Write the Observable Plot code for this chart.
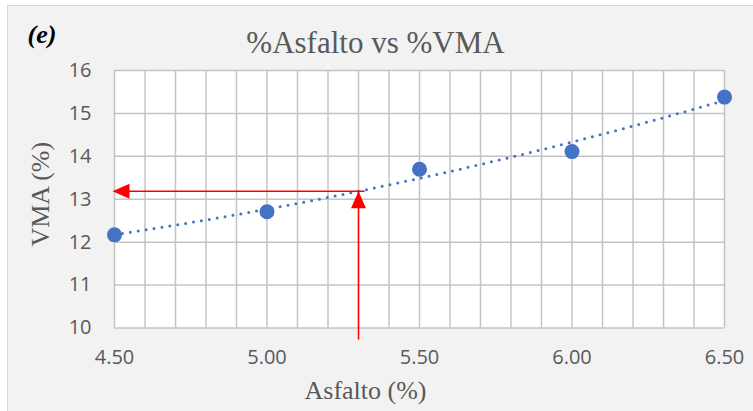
<!DOCTYPE html>
<html>
<head>
<meta charset="utf-8">
<script src="https://cdn.jsdelivr.net/npm/d3@7"></script>
<script src="https://cdn.jsdelivr.net/npm/@observablehq/plot@0.6"></script>
<style>
  html, body { margin: 0; padding: 0; background: #ffffff; }
  #wrap { position: relative; width: 753px; height: 411px; overflow: hidden; }
  #panel { position: absolute; left: 7px; top: 5px; width: 780px; height: 440px;
           background: #f2f2f2; border: 1.5px solid #d9d9d9; box-sizing: border-box; }
  #chart { position: absolute; left: 0; top: 0; }
</style>
</head>
<body>
<div id="wrap"><div id="panel"></div><div id="chart"></div></div>
<script>
// Asphalt content (%) and voids in mineral aggregate (%)
const asfalto = [4.5, 5.0, 5.5, 6.0, 6.5];
const vma = [12.17, 12.71, 13.70, 14.11, 15.38];
const xTicks = [4.5, 5.0, 5.5, 6.0, 6.5];
const yTicks = [10, 11, 12, 13, 14, 15, 16];
const designAsfalto = 5.3;   // chosen asphalt content
const axisFloor = 9.73;      // where the vertical guide starts, just below the axis

const title = "%Asfalto vs %VMA";
const panelTag = "(e)";
const xLabel = "Asfalto (%)";
const yLabel = "VMA (%)";

const blue = "#4472C4";
const red = "#ff0000";
const gray = "#595959";
const serif = "Liberation Serif, Times New Roman, serif";

// second-order least-squares trendline through the measured points
function polyfit2(xs, ys) {
  const n = xs.length;
  let s = [0, 0, 0, 0, 0], t = [0, 0, 0];
  for (let i = 0; i < n; i++) {
    let p = 1;
    for (let k = 0; k < 5; k++) { s[k] += p; if (k < 3) t[k] += p * ys[i]; p *= xs[i]; }
  }
  const A = [[s[0], s[1], s[2], t[0]], [s[1], s[2], s[3], t[1]], [s[2], s[3], s[4], t[2]]];
  for (let c = 0; c < 3; c++) {
    for (let r = c + 1; r < 3; r++) {
      const f = A[r][c] / A[c][c];
      for (let k = c; k < 4; k++) A[r][k] -= f * A[c][k];
    }
  }
  const b = [0, 0, 0];
  for (let r = 2; r >= 0; r--) {
    let v = A[r][3];
    for (let k = r + 1; k < 3; k++) v -= A[r][k] * b[k];
    b[r] = v / A[r][r];
  }
  return x => b[0] + b[1] * x + b[2] * x * x;
}
const fit = polyfit2(asfalto, vma);
const trend = d3.range(0, 201).map(i => {
  const x = asfalto[0] + (asfalto[asfalto.length - 1] - asfalto[0]) * i / 200;
  return {x, y: fit(x)};
});
const designVMA = fit(designAsfalto);

const points = asfalto.map((x, i) => ({x, y: vma[i]}));

// filled arrowhead with its tip at the origin, pointing up
const arrowHead = {
  draw(ctx) {
    ctx.moveTo(0, 0);
    ctx.lineTo(7.5, 17);
    ctx.lineTo(-7.5, 17);
    ctx.closePath();
  }
};

const fine = d3.range(45, 66).map(d => d / 10);

const chart = Plot.plot({
  width: 753,
  height: 411,
  marginLeft: 114,
  marginRight: 29,
  marginTop: 70,
  marginBottom: 83.5,
  style: {background: "transparent", fontFamily: "Open Sans, sans-serif"},
  x: {domain: [4.5, 6.5]},
  y: {domain: [10, 16]},
  marks: [
    Plot.frame({fill: "white", stroke: null}),
    Plot.gridX(fine, {stroke: "#c4c4c4", strokeOpacity: 1, strokeWidth: 1.5}),
    Plot.gridY(yTicks, {stroke: "#c4c4c4", strokeOpacity: 1, strokeWidth: 1.5}),
    Plot.axisX(xTicks, {tickSize: 0, tickPadding: 22, tickFormat: d3.format(".2f"),
      fontSize: 20, fill: gray, label: null}),
    Plot.axisY(yTicks, {tickSize: 0, tickPadding: 23, fontSize: 20, fill: gray, label: null}),
    Plot.line(trend, {x: "x", y: "y", stroke: blue, strokeWidth: 3,
      strokeDasharray: "0,8", strokeLinecap: "round"}),
    Plot.dot(points, {x: "x", y: "y", r: 7.5, fill: blue, stroke: null}),
    // red guides: chosen asphalt content up to the trendline, then across to the VMA axis
    Plot.link([{x1: designAsfalto, y1: axisFloor, x2: designAsfalto, y2: designVMA}],
      {x1: "x1", y1: "y1", x2: "x2", y2: "y2", stroke: red, strokeWidth: 1.5}),
    Plot.link([{x1: designAsfalto + 0.02, y1: designVMA, x2: asfalto[0], y2: designVMA}],
      {x1: "x1", y1: "y1", x2: "x2", y2: "y2", stroke: red, strokeWidth: 1.5}),
    Plot.dot([{x: designAsfalto, y: designVMA}], {x: "x", y: "y", symbol: arrowHead,
      fill: red, stroke: null, r: 6}),
    Plot.dot([{x: asfalto[0], y: designVMA}], {x: "x", y: "y", symbol: arrowHead,
      rotate: -90, fill: red, stroke: null, r: 6, dx: -2}),
    // titles
    Plot.text([title], {frameAnchor: "top", text: d => d, dx: -44, dy: -18, lineAnchor: "bottom",
      textAnchor: "middle", fontFamily: serif, fontSize: 31, fill: gray}),
    Plot.text([panelTag], {frameAnchor: "top-left", text: d => d, dx: -87, dy: -28,
      lineAnchor: "bottom", textAnchor: "start", fontFamily: serif,
      fontSize: 26, fontWeight: "bold", fontStyle: "italic", fill: "#000"}),
    Plot.text([xLabel], {frameAnchor: "bottom", text: d => d, dx: -54, dy: 70.5,
      lineAnchor: "bottom", textAnchor: "middle", fontFamily: serif, fontSize: 26, fill: gray}),
    Plot.text([yLabel], {frameAnchor: "left", text: d => d, dx: -74, dy: -5, rotate: -90,
      lineAnchor: "middle", textAnchor: "middle", fontFamily: serif, fontSize: 26, fill: gray})
  ]
});
document.getElementById("chart").appendChild(chart);
</script>
</body>
</html>
